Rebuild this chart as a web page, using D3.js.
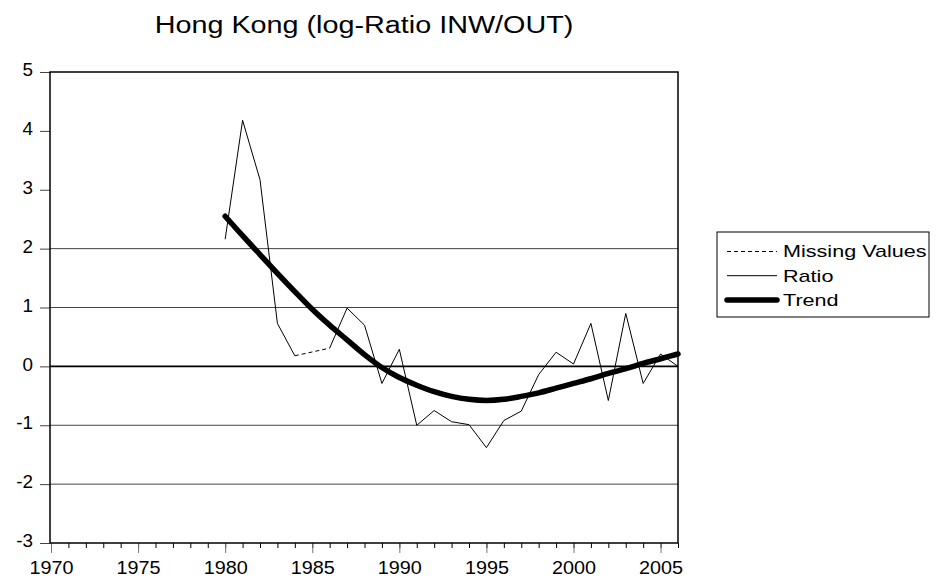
<!DOCTYPE html>
<html>
<head>
    <meta charset="utf-8">
    <title>Hong Kong log-Ratio</title>
    <script src="https://d3js.org/d3.v7.min.js"></script>
    <style>
      body { margin: 0; background: #fff; }
      text { font-family: "Liberation Sans", Arial, sans-serif; fill: #000; }
    </style>
</head>
<body>
<div id="chart"></div>
<script type="text/javascript">
    // data (1985 is missing in the ratio series)
    let years = d3.range(1980, 2007);
    let ratio = [2.16, 4.18, 3.17, 0.73, 0.18, null, 0.31, 0.99, 0.70, -0.29,
                 0.29, -1.00, -0.75, -0.94, -0.99, -1.38, -0.92, -0.76, -0.14, 0.24,
                 0.04, 0.73, -0.58, 0.90, -0.29, 0.21, 0.00];
    let trend = [2.55, 2.22, 1.90, 1.58, 1.27, 0.97, 0.70, 0.45, 0.20, -0.02,
                 -0.19, -0.32, -0.43, -0.51, -0.56, -0.58, -0.56, -0.51, -0.45, -0.37,
                 -0.29, -0.21, -0.12, -0.04, 0.05, 0.13, 0.21];
    let yTicks = [-3, -2, -1, 0, 1, 2, 3, 4, 5];
    let gridValues = [-2, -1, 1, 2];
    let xLabels = [1970, 1975, 1980, 1985, 1990, 1995, 2000, 2005];
    let legendItems = ["Missing Values", "Ratio", "Trend"];

    let margin = {top: 72, right: 261, bottom: 38, left: 50};
    let w = 939 - margin.left - margin.right;
    let h = 581 - margin.top - margin.bottom;

    // the original font is wider than Arial, so stretch texts a bit
    function stretch(sel, k) {
      sel.each(function() {
        let len = this.getComputedTextLength();
        d3.select(this)
          .attr("textLength", len * k)
          .attr("lengthAdjust", "spacingAndGlyphs");
      });
    }

    let root = d3.select("#chart")
            .append("svg")
                .attr("width", 939)
                .attr("height", 581);

    let svg = root.append("g")
                .attr("transform", "translate(" + margin.left + "," + margin.top + ")");

    let xScale = d3.scaleLinear().domain([1970, 2006]).range([1, w]);
    let yScale = d3.scaleLinear().domain([-3, 5]).range([h, 0]);

    // title
    let title = root.append("text")
        .attr("x", margin.left + w / 2)
        .attr("y", 33)
        .attr("text-anchor", "middle")
        .attr("font-size", "23px")
        .text("Hong Kong (log-Ratio INW/OUT)");
    stretch(title, 1.25);

    // grid lines
    svg.selectAll(".grid")
        .data(gridValues)
        .enter()
        .append("line")
            .attr("x1", 0).attr("x2", w)
            .attr("y1", d => yScale(d)).attr("y2", d => yScale(d))
            .attr("stroke", "#444")
            .attr("stroke-width", 1);

    svg.append("line")
        .attr("x1", 0).attr("x2", w)
        .attr("y1", yScale(0)).attr("y2", yScale(0))
        .attr("stroke", "#000")
        .attr("stroke-width", 1.6);

    // y axis
    let yAxis = d3.axisLeft(yScale)
                  .tickValues(yTicks)
                  .tickSize(10)
                  .tickPadding(7)
                  .tickFormat(d => String(d));
    let gy = svg.append("g").call(yAxis);
    gy.select(".domain").remove();
    gy.selectAll(".tick line").attr("stroke", "#444");
    gy.selectAll("text")
        .attr("font-size", "18.5px")
        .attr("dy", "0.2em")
        .style("font-family", "'Liberation Sans', Arial, sans-serif");
    stretch(gy.selectAll("text"), 1.02);

    // x axis: minor ticks every year, major every 5
    let xMinor = d3.axisBottom(xScale)
                  .tickValues(d3.range(1970, 2007))
                  .tickSize(5)
                  .tickFormat("");
    let gxm = svg.append("g").attr("transform", "translate(0," + h + ")").call(xMinor);
    gxm.select(".domain").remove();
    gxm.selectAll(".tick line").attr("stroke", "#000");

    let xAxis = d3.axisBottom(xScale)
                  .tickValues(xLabels)
                  .tickSize(10)
                  .tickPadding(8)
                  .tickFormat(d => String(d));
    let gx = svg.append("g").attr("transform", "translate(0," + h + ")").call(xAxis);
    gx.select(".domain").remove();
    gx.selectAll(".tick line").attr("stroke", "#777");
    gx.selectAll("text")
        .attr("font-size", "18.5px")
        .style("font-family", "'Liberation Sans', Arial, sans-serif");
    stretch(gx.selectAll("text"), 1.07);

    // frame
    svg.append("rect")
        .attr("x", 0).attr("y", 0)
        .attr("width", w).attr("height", h)
        .attr("fill", "none")
        .attr("stroke", "#000")
        .attr("stroke-width", 1.5);

    let pts = years.map((y, i) => ({year: y, ratio: ratio[i], trend: trend[i]}));

    // dashed bridge over missing values
    let present = pts.filter(d => d.ratio !== null);
    let bridges = [];
    for (let i = 1; i < present.length; i++) {
      if (present[i].year - present[i - 1].year > 1) bridges.push([present[i - 1], present[i]]);
    }
    let line = d3.line().x(d => xScale(d.year)).y(d => yScale(d.ratio));
    svg.selectAll(".bridge")
        .data(bridges)
        .enter()
        .append("path")
            .attr("d", line)
            .attr("fill", "none")
            .attr("stroke", "#000")
            .attr("stroke-width", 1)
            .attr("stroke-dasharray", "4,3");

    svg.append("path")
        .datum(pts)
        .attr("d", line.defined(d => d.ratio !== null))
        .attr("fill", "none")
        .attr("stroke", "#000")
        .attr("stroke-width", 1);

    let trendLine = d3.line()
        .x(d => xScale(d.year))
        .y(d => yScale(d.trend))
        .curve(d3.curveMonotoneX);
    svg.append("path")
        .datum(pts)
        .attr("d", trendLine)
        .attr("fill", "none")
        .attr("stroke", "#000")
        .attr("stroke-width", 5.5)
        .attr("stroke-linecap", "round");

    // legend
    let lg = root.append("g").attr("transform", "translate(717,232)");
    lg.append("rect")
        .attr("width", 212).attr("height", 85)
        .attr("fill", "#fff")
        .attr("stroke", "#000")
        .attr("stroke-width", 1);
    lg.selectAll(".item")
        .data(legendItems)
        .enter()
        .append("line")
            .attr("x1", 10).attr("x2", 60)
            .attr("y1", (d, i) => 19.5 + i * 24.2).attr("y2", (d, i) => 19.5 + i * 24.2)
            .attr("stroke", "#000")
            .attr("stroke-width", (d, i) => i === 2 ? 5.5 : 1)
            .attr("stroke-linecap", (d, i) => i === 2 ? "round" : "butt")
            .attr("stroke-dasharray", (d, i) => i === 0 ? "4,3" : null);
    let lt = lg.selectAll(".label")
        .data(legendItems)
        .enter()
        .append("text")
            .attr("x", 66)
            .attr("y", (d, i) => 19.5 + i * 24.2)
            .attr("dy", "0.35em")
            .attr("font-size", "17px")
            .text(d => d);
    stretch(lt, 1.27);
</script>
</body>
</html>
